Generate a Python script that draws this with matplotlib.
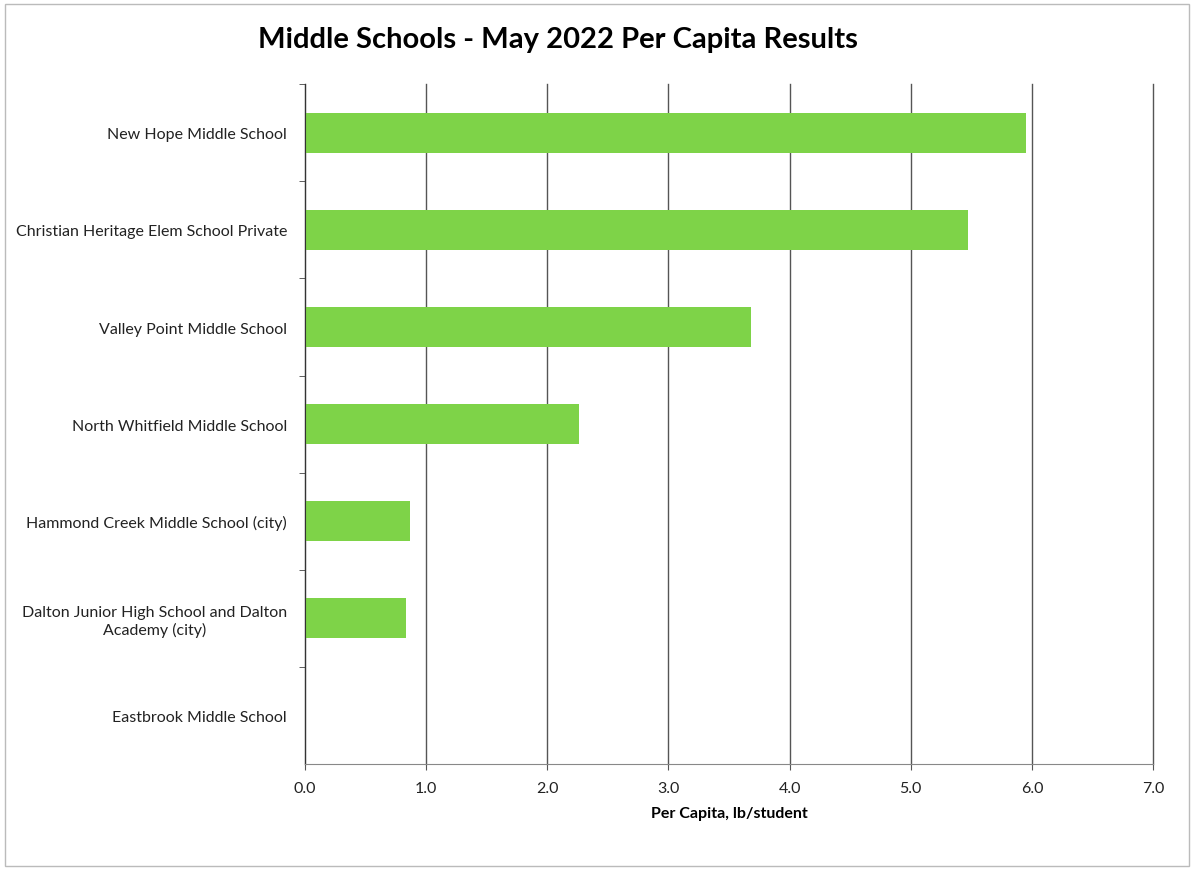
import matplotlib.pyplot as plt
from matplotlib.ticker import FixedLocator

schools = [
    "New Hope Middle School",
    "Christian Heritage Elem School Private",
    "Valley Point Middle School",
    "North Whitfield Middle School",
    "Hammond Creek Middle School (city)",
    "Dalton Junior High School and Dalton\nAcademy (city)",
    "Eastbrook Middle School",
]
per_capita = [5.95, 5.47, 3.68, 2.26, 0.87, 0.83, 0.0]
xticks = [0, 1, 2, 3, 4, 5, 6, 7]

plt.rcParams['font.family'] = ['Lato', 'DejaVu Sans']

fig = plt.figure(figsize=(11.94, 8.7), dpi=100)
ax = fig.add_axes([0.2554, 0.1207, 0.7103, 0.7813])

pos = list(range(len(schools)))
ax.barh(pos, per_capita, height=0.41, color="#7ed348", zorder=2)
ax.set_ylim(len(schools) - 0.5, -0.5)
ax.set_xlim(0, 7)

ax.set_yticks(pos)
ax.set_yticklabels(schools, fontsize=11.5, color="#222222", multialignment="center")
ax.tick_params(axis="y", length=0, pad=13)
ax.yaxis.set_minor_locator(FixedLocator([p + 0.5 for p in pos[:-1]] + [-0.5]))
ax.tick_params(axis="y", which="minor", length=4, color="#444444", direction="out")

ax.set_xticks(xticks)
ax.set_xticklabels([f"{x:.1f}" for x in xticks], fontsize=11.5, color="#222222")
ax.tick_params(axis="x", length=4, color="#555555", pad=8)
ax.grid(axis="x", color="#555555", linewidth=1.0, zorder=1)
for gl in ax.get_xgridlines():
    gl.set_clip_on(False)

for side in ["top", "right"]:
    ax.spines[side].set_visible(False)
ax.spines["left"].set_color("#333333")
ax.spines["bottom"].set_color("#888888")

ax.set_xlabel("Per Capita, lb/student", fontsize=11.5, fontweight="bold", labelpad=8)
fig.text(0.467, 0.954, "Middle Schools - May 2022 Per Capita Results",
         ha="center", va="center", fontsize=21, fontweight="bold")

fig.patches.append(plt.Rectangle((0.004, 0.004), 0.992, 0.99, transform=fig.transFigure,
                                 fill=False, edgecolor="#bbbbbb", linewidth=1))

fig.savefig("out.png", dpi=100)
